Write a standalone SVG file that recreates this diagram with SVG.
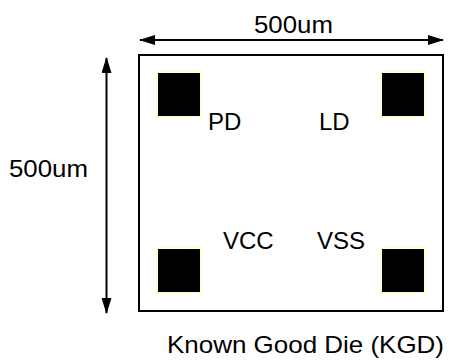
<svg xmlns="http://www.w3.org/2000/svg" width="449" height="360" viewBox="0 0 449 360">
<style>
text { font-family: "Liberation Sans", Arial, sans-serif; font-size: 24px; fill: #000; }
.pad { fill: #000; stroke: #ffffcc; stroke-width: 2; }
.line { stroke: #000; stroke-width: 2; fill: none; }
</style>
<defs>
<marker id="ah" viewBox="0 0 16 10" refX="15" refY="5" markerWidth="16" markerHeight="10" markerUnits="userSpaceOnUse" orient="auto-start-reverse">
<path d="M0,0 L16,5 L0,10 z" fill="#000"/>
</marker>
</defs>
<rect width="449" height="360" fill="#fff"/>
<g id="die">
<rect x="139" y="55" width="304" height="256" class="line"/>
</g>
<g id="pad-pd"><rect x="157" y="72" width="44" height="45" class="pad"/></g>
<g id="pad-ld"><rect x="381" y="72" width="44" height="45" class="pad"/></g>
<g id="pad-vcc"><rect x="157" y="248" width="44" height="45" class="pad"/></g>
<g id="pad-vss"><rect x="381" y="248" width="44" height="45" class="pad"/></g>
<g id="connectors">
<line x1="140" y1="40" x2="443" y2="40" class="line" marker-start="url(#ah)" marker-end="url(#ah)"/>
<line x1="106.5" y1="58" x2="106.5" y2="313" class="line" marker-start="url(#ah)" marker-end="url(#ah)"/>
</g>
<g id="labels">
<text x="254" y="33" textLength="79" lengthAdjust="spacingAndGlyphs">500um</text>
<text x="9" y="177" textLength="79" lengthAdjust="spacingAndGlyphs">500um</text>
<text x="208" y="130">PD</text>
<text x="319" y="130">LD</text>
<text x="223" y="249">VCC</text>
<text x="317" y="249">VSS</text>
<text x="167" y="353" textLength="277" lengthAdjust="spacingAndGlyphs">Known Good Die (KGD)</text>
</g>
</svg>
